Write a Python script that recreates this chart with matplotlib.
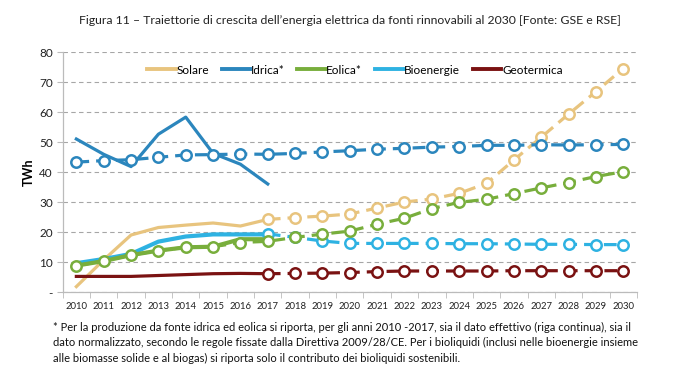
import matplotlib
matplotlib.use("Agg")
import matplotlib.pyplot as plt
import numpy as np
from matplotlib.lines import Line2D

years = list(range(2010, 2031))
years_hist = list(range(2010, 2018))
years_proj = list(range(2017, 2031))

solare_hist = [1.9, 10.8, 19.1, 21.6, 22.4, 23.1, 22.1, 24.3]
solare_proj = [24.3, 24.9, 25.4, 26.1, 28.1, 30.1, 31.1, 33.0, 36.3, 44.1, 51.7, 59.4, 66.9, 74.6]

idrica_hist = [51.1, 46.0, 41.9, 52.7, 58.4, 46.3, 42.7, 36.1]
idrica_norm = [43.4, 43.9, 44.2, 45.0, 45.8, 45.9, 46.1, 46.0, 46.3, 46.8, 47.2, 47.7,
               48.0, 48.4, 48.6, 49.0, 49.0, 49.2, 49.1, 49.2, 49.3]

eolica_hist = [8.9, 10.4, 12.4, 13.9, 15.0, 15.2, 17.7, 17.7]
eolica_norm = [8.9, 10.4, 12.4, 13.9, 15.0, 15.2, 16.6, 17.0, 18.3, 19.4, 20.4, 22.7,
               24.7, 27.9, 30.0, 31.0, 32.9, 34.8, 36.6, 38.6, 40.2]

bio_hist = [9.7, 11.1, 12.8, 16.9, 18.6, 19.3, 19.3, 19.3]
bio_proj = [19.5, 18.3, 17.1, 16.3, 16.3, 16.3, 16.3, 16.2, 16.2, 16.1, 16.0, 16.0, 15.9, 15.9]

geo_hist = [5.3, 5.3, 5.3, 5.6, 5.9, 6.2, 6.3, 6.2]
geo_proj = [6.2, 6.3, 6.4, 6.6, 6.9, 7.1, 7.1, 7.1, 7.1, 7.2, 7.2, 7.2, 7.2, 7.2]

yticks = [0, 10, 20, 30, 40, 50, 60, 70, 80]
ytick_labels = ["-", "10", "20", "30", "40", "50", "60", "70", "80"]
labels = ["Solare", "Idrica*", "Eolica*", "Bioenergie", "Geotermica"]

c_sol = "#E8C47E"
c_idr = "#2B86BD"
c_eol = "#78AE3C"
c_bio = "#2EB2E2"
c_geo = "#7A1212"

plt.rcParams['font.family'] = ['Lato', 'DejaVu Sans']

fig = plt.figure(figsize=(6.74, 3.78), dpi=100)
ax = fig.add_axes([0.093, 0.2267, 0.852, 0.6349])

lw = 2.3
ms = 7.5
mew = 1.8
dash = (4, 2.2)

def proj(x, y, c, z):
    ax.plot(x, y, color=c, lw=lw, dashes=dash, marker="o", markersize=ms,
            markerfacecolor="white", markeredgecolor=c, markeredgewidth=mew, zorder=z)

# historical solid lines
ax.plot(years_hist, solare_hist, color=c_sol, lw=lw, zorder=3)
ax.plot(years_hist, idrica_hist, color=c_idr, lw=lw, zorder=3)
ax.plot(years_hist, bio_hist, color=c_bio, lw=lw + 0.7, zorder=3)
ax.plot(years_hist, eolica_hist, color=c_eol, lw=lw + 0.7, zorder=3.5)
ax.plot(years_hist, geo_hist, color=c_geo, lw=lw, zorder=3)

proj(years_proj, solare_proj, c_sol, 4)
proj(years, idrica_norm, c_idr, 4)
proj(years_proj, bio_proj, c_bio, 4)
proj(years, eolica_norm, c_eol, 4.5)
proj(years_proj, geo_proj, c_geo, 4)

ax.set_xlim(2009.5, 2030.5)
ax.set_ylim(0, 80)
ax.set_yticks(yticks)
ax.set_yticklabels(ytick_labels, fontsize=8.5, color="#222222")
ax.set_xticks(years)
ax.set_xticklabels([str(y) for y in years], fontsize=6.8, color="#222222")
ax.set_xticks(np.arange(2009.5, 2031, 1), minor=True)
ax.tick_params(axis="x", which="major", length=0, pad=7)
ax.tick_params(axis="x", which="minor", length=4, color="#BBBBBB")
ax.tick_params(axis="y", length=4, color="#BBBBBB", pad=3)

ax.yaxis.grid(True, linestyle=(0, (4, 3)), color="#A6A6A6", lw=0.8)
ax.set_axisbelow(True)
for s in ["top", "right"]:
    ax.spines[s].set_visible(False)
for s in ["left", "bottom"]:
    ax.spines[s].set_color("#BBBBBB")
    ax.spines[s].set_linewidth(0.9)

ax.set_ylabel("TWh", fontsize=9, fontweight="bold", labelpad=3)

handles = [Line2D([], [], color=c, lw=lw + 0.5) for c in [c_sol, c_idr, c_eol, c_bio, c_geo]]
ax.legend(handles, labels, loc="center", bbox_to_anchor=(0.509, 0.926), ncol=5, frameon=False,
          fontsize=8.5, handlelength=2.4, handletextpad=0.05, columnspacing=1.1)

fig.text(0.519, 0.947, "Figura 11 – Traiettorie di crescita dell’energia elettrica da fonti rinnovabili al 2030 [Fonte: GSE e RSE]",
         ha="center", va="center", fontsize=8.85, color="#222222")

foot = ("* Per la produzione da fonte idrica ed eolica si riporta, per gli anni 2010 -2017, sia il dato effettivo (riga continua), sia il\n"
        "dato normalizzato, secondo le regole fissate dalla Direttiva 2009/28/CE. Per i bioliquidi (inclusi nelle bioenergie insieme\n"
        "alle biomasse solide e al biogas) si riporta solo il contributo dei bioliquidi sostenibili.")
fig.text(0.078, 0.093, foot, ha="left", va="center", fontsize=8.0, color="#111111", linespacing=1.5)

fig.savefig("out.png", dpi=100)
